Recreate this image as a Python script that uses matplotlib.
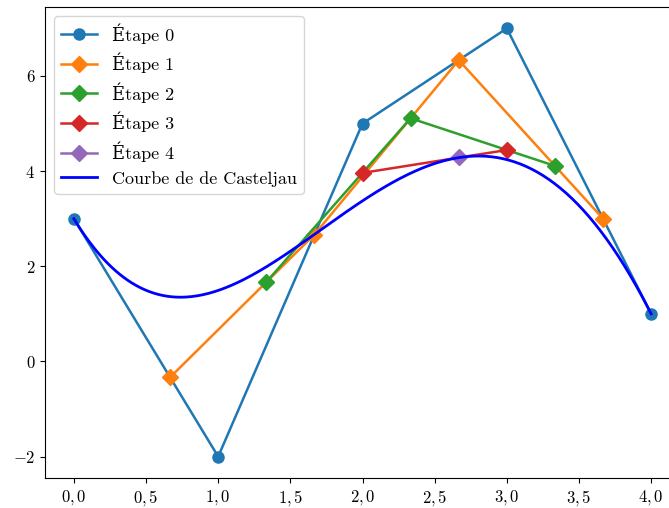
import numpy as np
import matplotlib
matplotlib.use('Agg')
import matplotlib.pyplot as plt
from matplotlib.ticker import FuncFormatter

# control polygon and the intermediate de Casteljau stages (t = 2/3)
stage0_x = [0.0, 1.0, 2.0, 3.0, 4.0]
stage0_y = [3.0, -2.0, 5.0, 7.0, 1.0]
stage1_x = [0.667, 1.667, 2.667, 3.667]
stage1_y = [-0.333, 2.667, 6.333, 3.0]
stage2_x = [1.333, 2.333, 3.333]
stage2_y = [1.667, 5.111, 4.111]
stage3_x = [2.0, 3.0]
stage3_y = [3.963, 4.444]
stage4_x = [2.667]
stage4_y = [4.290]

labels = ['Étape 0', 'Étape 1', 'Étape 2', 'Étape 3', 'Étape 4']
curve_label = 'Courbe de de Casteljau'

plt.rcParams['font.family'] = ['cmr10', 'DejaVu Serif']
plt.rcParams['mathtext.fontset'] = 'cm'
plt.rcParams['font.size'] = 12
plt.rcParams['axes.formatter.use_mathtext'] = True


def de_casteljau(px, py, t):
    pts = np.array([px, py], dtype=float).T
    while len(pts) > 1:
        pts = (1 - t) * pts[:-1] + t * pts[1:]
    return pts[0]


ts = np.linspace(0, 1, 300)
curve = np.array([de_casteljau(stage0_x, stage0_y, t) for t in ts])

fig = plt.figure(figsize=(6.69, 5.08), dpi=100)
ax = fig.add_axes([45 / 669, 30 / 508, 635 / 669, 471 / 508])

stages = [(stage0_x, stage0_y), (stage1_x, stage1_y), (stage2_x, stage2_y),
          (stage3_x, stage3_y), (stage4_x, stage4_y)]
for i, (xs, ys) in enumerate(stages):
    marker = 'o' if i == 0 else 'D'
    ax.plot(xs, ys, marker=marker, color=f'C{i}', lw=1.8, markersize=8,
            label=labels[i])

ax.plot(curve[:, 0], curve[:, 1], color='blue', lw=2, label=curve_label)

ax.set_xticks(np.arange(0, 4.01, 0.5))
ax.set_yticks([-2, 0, 2, 4, 6])
ax.xaxis.set_major_formatter(FuncFormatter(
    lambda v, p: r'$%s$' % f'{v:.1f}'.replace('.', ',')))
ax.yaxis.set_major_formatter(FuncFormatter(lambda v, p: r'$%d$' % v))

ax.legend(loc='upper left', fontsize=13)

fig.savefig('out.png', dpi=100)
